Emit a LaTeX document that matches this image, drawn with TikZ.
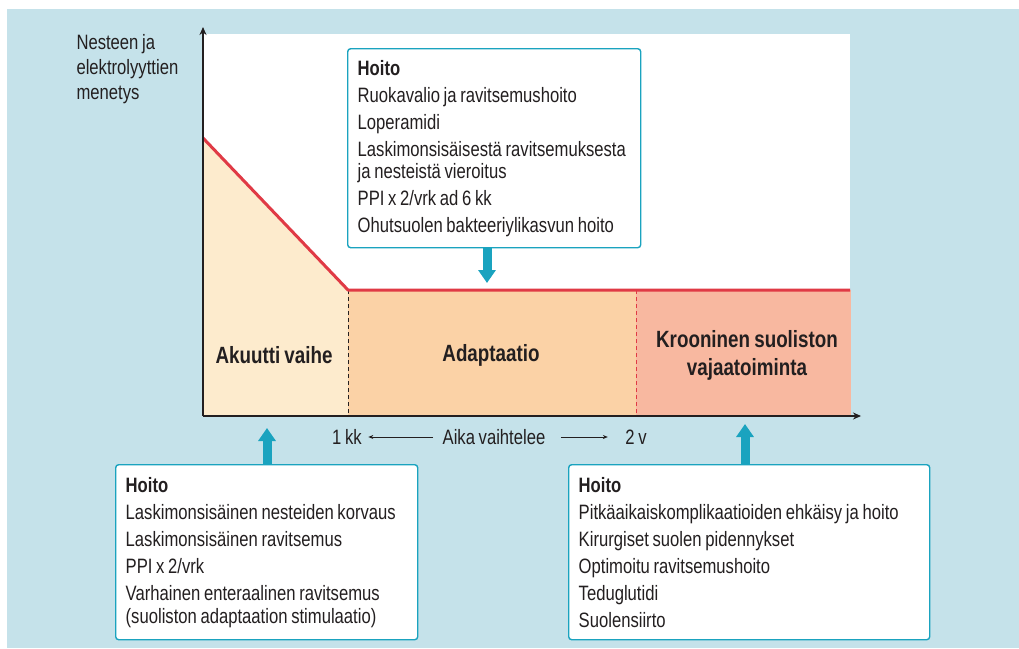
\documentclass[tikz,border=0pt]{standalone}
\usepackage{fontspec}
\setmainfont{Liberation Sans}[FakeStretch=0.8, WordSpace=0.8]
\usetikzlibrary{arrows.meta, positioning}

\definecolor{bgblue}{HTML}{C5E2EA}
\definecolor{ink}{HTML}{231F20}
\definecolor{curvered}{HTML}{E03A45}
\definecolor{hoitoteal}{HTML}{1AA3BF}
\definecolor{acutefill}{HTML}{FDEBCD}
\definecolor{adaptfill}{HTML}{FBD2A6}
\definecolor{chronicfill}{HTML}{F8B8A0}

\begin{document}
\begin{tikzpicture}[x=1pt, y=-1pt, >=Stealth,
    hoito/.style={rectangle, draw=hoitoteal, line width=1.4pt, fill=white, rounded corners=3pt,
        align=flush left, text=ink, anchor=north west, inner xsep=10pt, font=\fontsize{20.8}{22}\selectfont},
    phase/.style={align=center, text=ink, font=\fontsize{23.5}{28}\selectfont\bfseries},
    tealarrow/.style={draw=hoitoteal, line width=9pt, -{Triangle[width=17pt, length=13pt]}},
    axis/.style={draw=ink, line width=1.2pt, -{Stealth[length=8pt, width=7pt]}},
    timearrow/.style={draw=ink, line width=0.8pt, -{Stealth[length=5pt, width=4pt]}},
    tick/.style={text=ink, font=\fontsize{20.8}{22}\selectfont}
]
    \useasboundingbox (0,0) rectangle (1019,648);
    \fill[bgblue] (7,9) rectangle (1019,648);
    \fill[white] (203,34) rectangle (850,416);

    % Curve points
    \coordinate (origin) at (203,416);
    \coordinate (ytop) at (203,27);
    \coordinate (xend) at (861,416);
    \coordinate (start) at (203,138);
    \coordinate (knee) at (348,290);
    \coordinate (split) at (636,290);
    \coordinate (lineend) at (850,290);

    % Phase areas
    \fill[acutefill] (start) -- (knee) -- (348,416) -- (origin) -- cycle;
    \fill[adaptfill] (knee) rectangle (636,416);
    \fill[chronicfill] (split) rectangle (851,416);
    \draw[ink, dash pattern=on 4pt off 3pt, line width=1pt] (knee) -- (348,416);
    \draw[curvered, dash pattern=on 4pt off 3pt, line width=1pt] (split) -- (636,416);
    \draw[curvered, line width=3pt, line join=round] (start) -- (knee) -- (lineend);

    % Axes
    \draw[axis] (origin) -- (ytop);
    \draw[axis] (origin) -- (xend);
    \node[tick, anchor=north west, align=left, font=\fontsize{20.8}{25}\selectfont] (ylabel) at (73,31)
        {Nesteen ja\\elektrolyyttien\\menetys};

    % Phase labels
    \node[phase] (acute) at (274,355) {Akuutti vaihe};
    \node[phase] (adapt) at (491,355) {Adaptaatio};
    \node[phase] (chronic) at (747,355) {Krooninen suoliston\\vajaatoiminta};

    % Time labels
    \node[tick] (onekk) at (347,437) {1 kk};
    \node[tick] (aika) at (494,437) {Aika vaihtelee};
    \node[tick] (twov) at (636,437) {2 v};
    \draw[timearrow, shorten <=6pt, shorten >=3pt] (aika.west) -- (onekk.east);
    \draw[timearrow, shorten <=12pt, shorten >=14pt] (aika.east) -- (twov.west);

    % Hoito boxes
    \node[hoito, text width=273pt, minimum height=199pt] (tophoito) at (347,48) {%
        \textbf{Hoito}\\[5pt]
        Ruokavalio ja ravitsemushoito\\[5pt]
        Loperamidi\\[5pt]
        Laskimonsisäisestä ravitsemuksesta\\
        ja nesteistä vieroitus\\[5pt]
        PPI x 2/vrk ad 6 kk\\[5pt]
        Ohutsuolen bakteeriylikasvun hoito};
    \node[hoito, text width=282pt, minimum height=175pt] (lefthoito) at (115,464) {%
        \textbf{Hoito}\\[5pt]
        Laskimonsisäinen nesteiden korvaus\\[5pt]
        Laskimonsisäinen ravitsemus\\[5pt]
        PPI x 2/vrk\\[5pt]
        Varhainen enteraalinen ravitsemus\\[1pt]
        (suoliston adaptaation stimulaatio)};
    \node[hoito, text width=341pt, minimum height=175pt] (righthoito) at (568,464) {%
        \textbf{Hoito}\\[5pt]
        Pitkäaikaiskomplikaatioiden ehkäisy ja hoito\\[5pt]
        Kirurgiset suolen pidennykset\\[5pt]
        Optimoitu ravitsemushoito\\[5pt]
        Teduglutidi\\[5pt]
        Suolensiirto};

    % Hoito arrows
    \coordinate (adapthit) at (487,283);
    \coordinate (acutehit) at (267,428);
    \coordinate (chronichit) at (745,424);
    \draw[tealarrow] (tophoito.south -| adapthit) -- (adapthit);
    \draw[tealarrow] (lefthoito.north -| acutehit) -- (acutehit);
    \draw[tealarrow] (righthoito.north -| chronichit) -- (chronichit);
\end{tikzpicture}
\end{document}
